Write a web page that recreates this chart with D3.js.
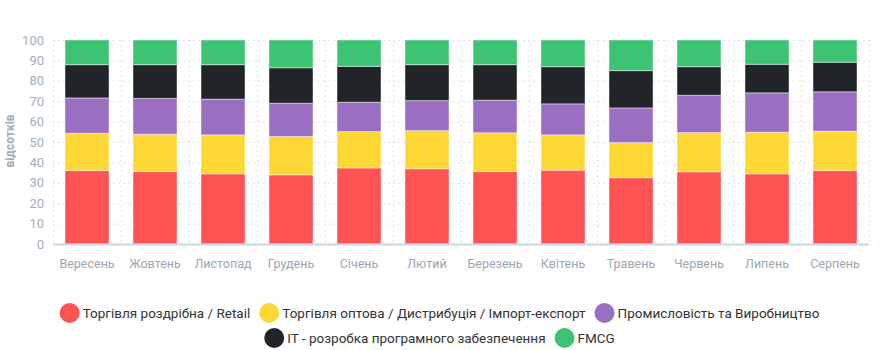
<!DOCTYPE html>
<html><head><meta charset="utf-8">
<script src="https://cdn.jsdelivr.net/npm/d3@7"></script>
<style>
body{margin:0;background:#fff;}
svg{display:block;font-family:Roboto, "Liberation Sans", Arial, sans-serif;}
</style></head>
<body><svg id="c" width="880" height="350"></svg>
<script>
const categories = ["Вересень","Жовтень","Листопад","Грудень","Січень","Лютий","Березень","Квітень","Травень","Червень","Липень","Серпень"];
const seriesNames = ["Торгівля роздрібна / Retail","Торгівля оптова / Дистрибуція / Імпорт-експорт","Промисловість та Виробництво","IT - розробка програмного забезпечення","FMCG"];
const colors = ["#ff5252","#fdd835","#9a6fc2","#212529","#3cc472"];
const retail    = [36.0,35.5,34.4,33.9,37.3,36.9,35.5,36.2,32.5,35.4,34.4,36.0];
const wholesale = [18.3,18.3,19.1,18.8,17.8,18.7,19.0,17.3,17.2,19.2,20.4,19.3];
const industry  = [17.3,17.6,17.5,16.3,14.4,14.7,16.0,15.2,17.0,18.3,19.3,19.3];
const it        = [16.3,16.5,16.9,17.4,17.6,17.6,17.4,18.2,18.3,14.0,14.0,14.5];
const fmcg      = [12.1,12.1,12.1,13.6,12.9,12.1,12.1,13.1,15.0,13.1,11.9,10.9];
const yTicks = [0,10,20,30,40,50,60,70,80,90,100];

(function(){
const seriesValues = [retail, wholesale, industry, it, fmcg];
const data = categories.map((c,i)=>{const o={cat:c}; seriesValues.forEach((s,k)=>o["s"+k]=s[i]); return o;});
const keys = seriesValues.map((_,k)=>"s"+k);
const stack = d3.stack().keys(keys).offset(d3.stackOffsetExpand)(data);

const svg = d3.select("#c");
const pL=53, pR=869, pT=40, pB=244;
const x = d3.scaleBand().domain(categories).range([pL,pR]).padding(0);
const y = d3.scaleLinear().domain([0,100]).range([pB,pT]);
const barW = 44;

const g = svg.append("g");
g.selectAll("line.h").data(yTicks.filter(t=>t>0)).enter().append("line")
 .attr("x1",pL).attr("x2",pR).attr("y1",d=>y(d)+0.5).attr("y2",d=>y(d)+0.5)
 .attr("stroke","#e3e3e3").attr("stroke-dasharray","2,3");
const vb = categories.map(c=>x(c)).concat([pR]);
g.selectAll("line.v").data(vb).enter().append("line")
 .attr("x1",d=>Math.round(d)+0.5).attr("x2",d=>Math.round(d)+0.5).attr("y1",pT).attr("y2",pB)
 .attr("stroke","#e3e3e3").attr("stroke-dasharray","2,3");

svg.append("g").selectAll("g").data(stack).enter().append("g")
 .attr("fill",(d,i)=>colors[i])
 .selectAll("rect").data(d=>d).enter().append("rect")
 .attr("x",d=>x(d.data.cat)+(x.bandwidth()-barW)/2)
 .attr("width",barW)
 .attr("y",d=>y(d[1]*100))
 .attr("height",d=>y(d[0]*100)-y(d[1]*100))
 .attr("stroke","rgba(255,255,255,0.45)").attr("stroke-width",1);

svg.append("line").attr("x1",pL).attr("x2",pR).attr("y1",pB+0.5).attr("y2",pB+0.5)
 .attr("stroke","#ccd6eb").attr("stroke-width",2);

const ya = svg.append("g").attr("transform",`translate(${pL-9},0)`)
 .call(d3.axisLeft(y).tickValues(yTicks).tickSize(0).tickPadding(0));
ya.select(".domain").remove();
ya.selectAll("text").attr("fill","#a3afbb").style("font-size","13px").attr("font-family","Roboto, Arial, sans-serif");

const xa = svg.append("g").attr("transform",`translate(0,${pB})`)
 .call(d3.axisBottom(x).tickSize(0).tickPadding(15));
xa.select(".domain").remove();
xa.selectAll("text").attr("fill","#9aa6b3").style("font-size","12.5px").attr("font-family","Roboto, Arial, sans-serif");

svg.append("text").attr("transform","translate(14,141) rotate(-90)").attr("text-anchor","middle")
 .attr("fill","#a3afbb").style("font-size","12px").style("font-weight","bold").text("відсотків");

const rows=[[0,1,2],[3,4]];
const legY=[313,338];
const lg = svg.append("g").style("font-size","13.5px");
rows.forEach((r,ri)=>{
  const items = r.map(i=>{
    const t = lg.append("text").attr("fill","#333").text(seriesNames[i]);
    const w = t.node().getComputedTextLength();
    return {i,t,w:w+24};
  });
  const gap=8;
  const total = d3.sum(items,d=>d.w)+gap*(items.length-1);
  let cx = 440 - total/2;
  items.forEach(item=>{
    lg.append("circle").attr("cx",cx+10).attr("cy",legY[ri]).attr("r",10).attr("fill",colors[item.i]);
    item.t.attr("x",cx+23).attr("y",legY[ri]+5);
    cx += item.w+gap;
  });
});
})();
</script></body></html>
